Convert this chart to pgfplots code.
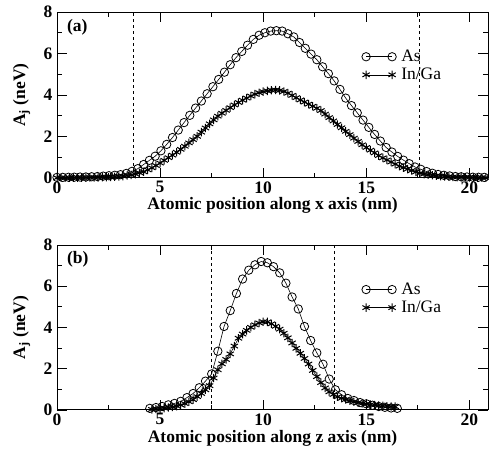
\documentclass[border=0pt]{standalone}
\usepackage{fontspec}
\setmainfont{Liberation Serif}
\usepackage{pgfplots}
\usepackage{pgfplotstable}
\pgfplotsset{compat=1.18}

\newcommand\fs{\fontsize{17.5}{20}\selectfont}

% panel (a): along x
\pgfplotstableread{
x y
0.00 0.03
0.28 0.03
0.56 0.035
0.84 0.04
1.12 0.045
1.40 0.05
1.68 0.06
1.96 0.07
2.24 0.09
2.52 0.11
2.80 0.13
3.08 0.16
3.36 0.22
3.64 0.32
3.92 0.45
4.20 0.65
4.48 0.85
4.76 1.05
5.04 1.31
5.32 1.62
5.60 1.95
5.88 2.31
6.16 2.67
6.44 3.02
6.72 3.37
7.00 3.71
7.28 4.06
7.56 4.40
7.84 4.75
8.12 5.10
8.40 5.46
8.68 5.80
8.96 6.10
9.24 6.40
9.52 6.68
9.80 6.88
10.08 7.00
10.36 7.08
10.64 7.10
10.92 7.08
11.20 6.95
11.48 6.80
11.76 6.53
12.04 6.25
12.32 5.97
12.60 5.70
12.88 5.36
13.16 5.03
13.44 4.68
13.72 4.27
14.00 3.85
14.28 3.49
14.56 3.14
14.84 2.79
15.12 2.44
15.40 2.10
15.68 1.78
15.96 1.47
16.24 1.25
16.52 1.04
16.80 0.86
17.08 0.69
17.36 0.53
17.64 0.42
17.92 0.31
18.20 0.23
18.48 0.17
18.76 0.13
19.04 0.10
19.32 0.07
19.60 0.06
19.88 0.05
20.16 0.04
20.44 0.035
20.72 0.03
}\asx

\pgfplotstableread{
x y
0.0 0.01
0.2 0.01
0.4 0.01
0.6 0.015
0.8 0.015
1.0 0.02
1.2 0.02
1.4 0.02
1.6 0.025
1.8 0.03
2.0 0.03
2.2 0.035
2.4 0.04
2.6 0.05
2.8 0.06
3.0 0.07
3.2 0.09
3.4 0.12
3.6 0.15
3.8 0.19
4.0 0.25
4.2 0.30
4.4 0.39
4.6 0.49
4.8 0.60
5.0 0.72
5.2 0.85
5.4 0.98
5.6 1.10
5.8 1.24
6.0 1.38
6.2 1.53
6.4 1.69
6.6 1.85
6.8 2.01
7.0 2.21
7.2 2.41
7.4 2.61
7.6 2.80
7.8 2.98
8.0 3.12
8.2 3.26
8.4 3.39
8.6 3.52
8.8 3.64
9.0 3.75
9.2 3.85
9.4 3.95
9.6 4.04
9.8 4.11
10.0 4.16
10.2 4.20
10.4 4.23
10.6 4.24
10.8 4.22
11.0 4.17
11.2 4.09
11.4 3.98
11.6 3.87
11.8 3.76
12.0 3.66
12.2 3.56
12.4 3.46
12.6 3.36
12.8 3.25
13.0 3.08
13.2 2.91
13.4 2.75
13.6 2.58
13.8 2.42
14.0 2.25
14.2 2.09
14.4 1.92
14.6 1.76
14.8 1.60
15.0 1.47
15.2 1.34
15.4 1.21
15.6 1.08
15.8 0.97
16.0 0.87
16.2 0.77
16.4 0.67
16.6 0.57
16.8 0.50
17.0 0.43
17.2 0.36
17.4 0.29
17.6 0.23
17.8 0.19
18.0 0.16
18.2 0.13
18.4 0.11
18.6 0.09
18.8 0.08
19.0 0.06
19.2 0.05
19.4 0.045
19.6 0.04
19.8 0.035
20.0 0.03
20.2 0.025
20.4 0.02
20.6 0.02
20.8 0.015
}\ingax

% panel (b): along z
\pgfplotstableread{
x y
4.5 0.08
4.8 0.12
5.1 0.17
5.4 0.25
5.7 0.32
6.0 0.42
6.3 0.60
6.6 0.80
6.9 1.08
7.2 1.40
7.5 1.75
7.8 2.85
8.1 4.05
8.4 4.82
8.7 5.65
9.0 6.35
9.3 6.78
9.6 7.04
9.9 7.20
10.2 7.14
10.5 6.95
10.8 6.65
11.1 6.15
11.4 5.48
11.7 4.90
12.0 4.05
12.3 3.37
12.6 2.77
12.9 2.22
13.2 1.50
13.5 0.98
13.8 0.74
14.1 0.56
14.4 0.46
14.7 0.36
15.0 0.30
15.3 0.23
15.6 0.17
15.9 0.13
16.2 0.10
16.5 0.08
}\asz

\pgfplotstableread{
x y
4.6 0.03
4.8 0.05
5.0 0.07
5.2 0.09
5.4 0.12
5.6 0.15
5.8 0.19
6.0 0.24
6.2 0.31
6.4 0.40
6.6 0.50
6.8 0.65
7.0 0.80
7.2 0.98
7.4 1.18
7.6 1.55
7.8 1.95
8.0 2.24
8.2 2.45
8.4 2.72
8.6 3.10
8.8 3.48
9.0 3.68
9.2 3.86
9.4 4.01
9.6 4.13
9.8 4.22
10.0 4.28
10.2 4.27
10.4 4.18
10.6 4.06
10.8 3.92
11.0 3.72
11.2 3.50
11.4 3.25
11.6 2.99
11.8 2.75
12.0 2.50
12.2 2.23
12.4 1.92
12.6 1.62
12.8 1.33
13.0 1.07
13.2 0.88
13.4 0.75
13.6 0.64
13.8 0.57
14.0 0.51
14.2 0.45
14.4 0.40
14.6 0.36
14.8 0.32
15.0 0.29
15.2 0.26
15.4 0.24
15.6 0.22
15.8 0.20
16.0 0.18
16.2 0.17
16.4 0.16
}\ingaz

\pgfplotsset{
  panel/.style={
    scale only axis, width=431pt, height=166pt,
    xmin=0, xmax=20.9, ymin=0, ymax=8,
    xtick={0,5,10,15,20}, ytick={0,2,4,6,8},
    minor x tick num=1, minor y tick num=1,
    tick align=inside, major tick length=10pt, minor tick length=5pt,
    axis line style={line width=1pt}, tick style={line width=0.8pt, black},
    ticklabel style={font=\fs\bfseries},
    /pgf/number format/assume math mode=true,
    yticklabel style={xshift=-1pt},
    ylabel={A\textsubscript{j} (neV)},
    ylabel style={font=\fs\bfseries, at={(axis description cs:-0.074,0.5)}, anchor=base, inner sep=0pt},
    xlabel style={font=\fs\bfseries, at={(axis description cs:0.5,0)}, anchor=base, yshift=-32pt, inner sep=0pt},
    clip mode=individual,
    legend style={draw=none, fill=none, font=\fs, at={(axis description cs:0.70,0.795)}, anchor=north west,
      row sep=1pt, nodes={inner sep=2pt},
      /tikz/every odd column/.append style={column sep=3pt}},
    legend cell align=left,
    legend image code/.code={\draw[##1] plot coordinates {(0pt,0pt) (26pt,0pt)};},
  },
  asline/.style={black, line width=0.6pt, mark=o, mark size=4.2pt, mark options={line width=0.8pt, solid}},
  ingaline/.style={black, line width=0.6pt, mark=asterisk, mark size=4.2pt, mark options={line width=1pt, solid}},
  vline/.style={black, dashed, line width=0.7pt, forget plot},
}

\begin{document}
\begin{tikzpicture}
\useasboundingbox (0pt,0pt) rectangle (489pt,457pt);

\begin{axis}[panel, at={(57pt,279pt)}, anchor=south west,
  xlabel={Atomic position along x axis (nm)}]
\addplot[vline] coordinates {(3.7,0) (3.7,8)};
\addplot[vline] coordinates {(17.55,0) (17.55,8)};
\addplot[asline] table {\asx};
\addlegendentry{As}
\addplot[ingaline] table {\ingax};
\addlegendentry{In/Ga}
\node[anchor=base west, font=\fs\bfseries, inner sep=0pt] at (axis description cs:0.023,0.885) {(a)};
\end{axis}

\begin{axis}[panel, at={(57pt,47pt)}, anchor=south west, height=165pt,
  xlabel={Atomic position along z axis (nm)}]
\addplot[vline] coordinates {(7.47,0) (7.47,8)};
\addplot[vline] coordinates {(13.46,0) (13.46,8)};
\addplot[asline] table {\asz};
\addlegendentry{As}
\addplot[ingaline] table {\ingaz};
\addlegendentry{In/Ga}
\node[anchor=base west, font=\fs\bfseries, inner sep=0pt] at (axis description cs:0.023,0.885) {(b)};
\end{axis}
\end{tikzpicture}
\end{document}
